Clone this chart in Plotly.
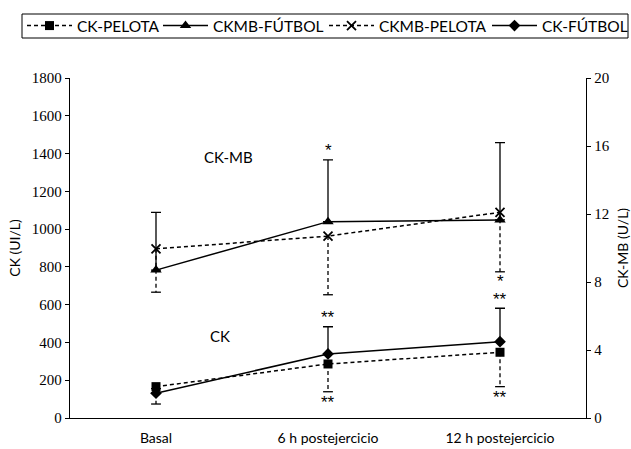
import plotly.graph_objects as go

categories = ["Basal", "6 h postejercicio", "12 h postejercicio"]

ck_pelota = [166, 286, 348]
ck_pelota_err_low = [92, 147, 182]
ck_futbol = [131, 339, 404]
ck_futbol_err_up = [25, 144, 177]

ckmb_pelota = [9.95, 10.7, 12.1]
ckmb_pelota_err_low = [2.55, 3.45, 3.5]
ckmb_futbol = [8.7, 11.55, 11.65]
ckmb_futbol_err_up = [3.4, 3.63, 4.55]

ck_futbol_sig = ["", "**", "**"]
ck_pelota_sig = ["", "**", "**"]
ckmb_futbol_sig = ["", "*", ""]
ckmb_pelota_sig = ["", "", "*"]

DASH = "4px,3px"
BLACK = "black"

fig = go.Figure()


def dashed_lower_bars(vals, errs, yaxis):
    xs, ys = [], []
    for c, v, e in zip(categories, vals, errs):
        xs += [c, c, None]
        ys += [v, v - e, None]
    fig.add_trace(go.Scatter(
        x=xs, y=ys, mode="lines", yaxis=yaxis, showlegend=False, hoverinfo="skip",
        line=dict(color=BLACK, width=1.3, dash=DASH)))
    fig.add_trace(go.Scatter(
        x=categories, y=[v - e for v, e in zip(vals, errs)], mode="markers",
        yaxis=yaxis, showlegend=False, hoverinfo="skip",
        marker=dict(symbol="line-ew", size=7, line=dict(color=BLACK, width=1.3))))


dashed_lower_bars(ck_pelota, ck_pelota_err_low, "y")
dashed_lower_bars(ckmb_pelota, ckmb_pelota_err_low, "y2")

fig.add_trace(go.Scatter(
    x=categories, y=ck_pelota, name="CK-PELOTA", mode="lines+markers", yaxis="y",
    legend="legend",
    line=dict(color=BLACK, width=1.5, dash=DASH),
    marker=dict(symbol="square", size=9, color=BLACK)))

fig.add_trace(go.Scatter(
    x=categories, y=ckmb_futbol, name="CKMB-FÚTBOL", mode="lines+markers", yaxis="y2",
    legend="legend2",
    line=dict(color=BLACK, width=1.5),
    marker=dict(symbol="triangle-up", size=10, color=BLACK),
    error_y=dict(type="data", symmetric=False, array=ckmb_futbol_err_up,
                 arrayminus=[0, 0, 0], color=BLACK, thickness=1.3, width=5)))

fig.add_trace(go.Scatter(
    x=categories, y=ckmb_pelota, name="CKMB-PELOTA", mode="lines+markers", yaxis="y2",
    legend="legend3",
    line=dict(color=BLACK, width=1.5, dash=DASH),
    marker=dict(symbol="x-thin-open", size=9, color=BLACK, line=dict(color=BLACK, width=1.8))))

fig.add_trace(go.Scatter(
    x=categories, y=ck_futbol, name="CK-FÚTBOL", mode="lines+markers", yaxis="y",
    legend="legend4",
    line=dict(color=BLACK, width=1.5),
    marker=dict(symbol="diamond", size=9, color=BLACK),
    error_y=dict(type="data", symmetric=False, array=ck_futbol_err_up,
                 arrayminus=[0, 0, 0], color=BLACK, thickness=1.3, width=5)))

annotations = []
star_font = dict(family="Liberation Sans", size=17, color=BLACK)


def add_stars(sig, vals, errs, sign, yref, shift):
    for c, s, v, e in zip(categories, sig, vals, errs):
        if s:
            annotations.append(dict(x=c, y=v + sign * e, xref="x", yref=yref, text=s,
                                    showarrow=False, font=star_font, yshift=shift,
                                    xanchor="center", yanchor="middle"))


add_stars(ck_futbol_sig, ck_futbol, ck_futbol_err_up, 1, "y", 9)
add_stars(ck_pelota_sig, ck_pelota, ck_pelota_err_low, -1, "y", -11)
add_stars(ckmb_futbol_sig, ckmb_futbol, ckmb_futbol_err_up, 1, "y2", 9)
add_stars(ckmb_pelota_sig, ckmb_pelota, ckmb_pelota_err_low, -1, "y2", -10)

label_font = dict(family="Lato", size=15, color=BLACK)
annotations.append(dict(x=0.42, y=1382, xref="x", yref="y", text="CK-MB", showarrow=False,
                        font=label_font))
annotations.append(dict(x=0.37, y=432, xref="x", yref="y", text="CK", showarrow=False,
                        font=label_font))

legend_font = dict(family="Lato", size=15.5, color=BLACK)
legend_starts = [22, 158, 324, 487]


def legend_cfg(x_px):
    return dict(orientation="h", xref="container", yref="container",
                x=x_px / 631, y=1 - 26 / 449, xanchor="left", yanchor="middle",
                borderwidth=0, bgcolor="rgba(0,0,0,0)", font=legend_font,
                itemwidth=45)


# plot area in pixels: left 70, right 586, top 78, bottom 418
shapes = [dict(type="rect", xref="paper", yref="paper",
               x0=(22 - 70) / 516, x1=(628 - 70) / 516,
               y0=(418 - 38) / 340, y1=(418 - 14) / 340,
               line=dict(color=BLACK, width=1), fillcolor="rgba(0,0,0,0)")]

fig.update_layout(
    width=631, height=449,
    margin=dict(l=70, r=45, t=78, b=31, autoexpand=False),
    paper_bgcolor="white", plot_bgcolor="white",
    showlegend=True,
    legend=legend_cfg(legend_starts[0]),
    legend2=legend_cfg(legend_starts[1]),
    legend3=legend_cfg(legend_starts[2]),
    legend4=legend_cfg(legend_starts[3]),
    xaxis=dict(type="category", range=[-0.5, 2.5], showline=True, linecolor=BLACK,
               linewidth=1.3, ticks="", showgrid=False, zeroline=False,
               tickfont=dict(family="Lato", size=14, color=BLACK),
               ticklabelstandoff=7),
    yaxis=dict(range=[0, 1800], dtick=200, showline=True, linecolor=BLACK, linewidth=1.3,
               ticks="outside", ticklen=4, tickcolor=BLACK, showgrid=False, zeroline=False,
               tickfont=dict(family="Liberation Serif", size=15, color=BLACK),
               title=dict(text="CK (UI/L)", font=dict(family="Lato", size=14, color=BLACK),
                          standoff=7)),
    yaxis2=dict(range=[0, 20], dtick=4, overlaying="y", side="right", showline=True,
                linecolor=BLACK, linewidth=1.3, ticks="outside", ticklen=4, tickcolor=BLACK,
                showgrid=False, zeroline=False,
                tickfont=dict(family="Liberation Serif", size=15, color=BLACK),
                title=dict(text="CK-MB (U/L)", font=dict(family="Lato", size=14, color=BLACK),
                           standoff=12)),
    annotations=annotations,
    shapes=shapes,
)

fig.write_html("out.html")
